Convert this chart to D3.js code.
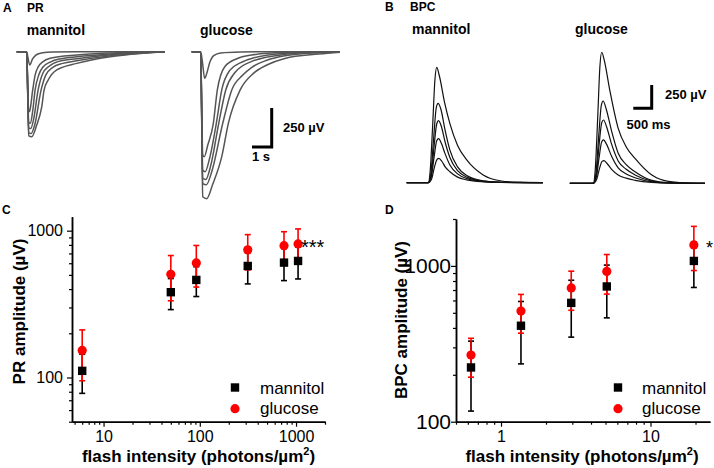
<!DOCTYPE html>
<html><head><meta charset="utf-8">
<script src="https://cdn.jsdelivr.net/npm/d3@7/dist/d3.min.js"></script>
<style>
html,body{margin:0;padding:0;background:#fff;}
svg{display:block;font-family:Arial,"Liberation Sans",sans-serif;}
</style></head>
<body><svg id="fig" width="714" height="468"></svg>
<script>
// ---------------- Panel C data (PR amplitude) ----------------
const PR_INTENSITY = [6, 50, 92, 315, 750, 1050];
const PR_MANNITOL = [111, 381, 462, 575, 606, 622];
const PR_MANNITOL_SD = [33, 91, 106, 141, 149, 153];
const PR_GLUCOSE = [153, 505, 603, 740, 790, 812];
const PR_GLUCOSE_SD = [58, 172, 190, 200, 194, 216];
const PR_X_TICKS = [10, 100, 1000];
const PR_Y_TICKS = [100, 1000];

// ---------------- Panel D data (BPC amplitude) ----------------
const BPC_INTENSITY = [0.63, 1.36, 2.95, 5.1, 19.5];
const BPC_MANNITOL = [223, 413, 579, 738, 1076];
const BPC_MANNITOL_SD = [106, 178, 230, 274, 349];
const BPC_GLUCOSE = [268, 513, 722, 921, 1364];
const BPC_GLUCOSE_SD = [75, 143, 203, 262, 430];
const BPC_X_TICKS = [1, 10];
const BPC_Y_TICKS = [100, 1000];

// ---------------- Panel A traces: [time s, µV] ----------------
const PR_TRACES_MANNITOL = [
  [[-0.5,0],[0,0],[0.05,-30],[0.15,-85],[0.3,-45],[0.5,-18],[0.8,-6],[1.3,-2],[2.5,0],[6.9,0]],
  [[-0.5,0],[0,0],[0.05,-200],[0.1,-385],[0.15,-380],[0.3,-245],[0.42,-150],[0.58,-96],[0.8,-65],[1.17,-42],[2.5,-21],[4.2,-8],[5.8,-2],[6.9,0]],
  [[-0.5,0],[0,0],[0.05,-230],[0.1,-455],[0.18,-459],[0.3,-380],[0.42,-245],[0.6,-150],[0.8,-100],[1.2,-65],[1.7,-45],[2.5,-32],[4.2,-14],[5.8,-4],[6.9,0]],
  [[-0.5,0],[0,0],[0.05,-250],[0.1,-488],[0.2,-492],[0.35,-430],[0.57,-245],[0.8,-140],[1.1,-95],[1.6,-62],[2.5,-45],[4.2,-20],[5.8,-6],[6.9,0]],
  [[-0.5,0],[0,0],[0.05,-260],[0.1,-520],[0.22,-524],[0.4,-470],[0.72,-245],[0.95,-150],[1.3,-100],[1.8,-75],[2.5,-58],[4.2,-26],[5.8,-8],[6.9,0]],
  [[-0.5,0],[0,0],[0.05,-270],[0.1,-540],[0.25,-545],[0.5,-470],[0.75,-353],[0.87,-245],[1.08,-180],[1.5,-117],[2.5,-75],[4.17,-32],[5.8,-10],[6.9,0]]
];
const PR_TRACES_GLUCOSE = [
  [[-0.45,0],[0,0],[0.08,-60],[0.2,-171],[0.3,-140],[0.45,-70],[0.65,-25],[1.0,-8],[2,-2],[3.5,0],[6.95,0]],
  [[-0.45,0],[0,0],[0.05,-330],[0.1,-660],[0.18,-673],[0.35,-600],[0.63,-459],[0.83,-245],[1.2,-96],[1.8,-45],[2.55,-21],[4.2,-4],[5.9,0],[6.95,0]],
  [[-0.45,0],[0,0],[0.05,-380],[0.1,-760],[0.22,-769],[0.45,-680],[0.78,-459],[1.05,-245],[1.45,-120],[2.0,-70],[2.55,-43],[4.2,-11],[5.9,-2],[6.95,0]],
  [[-0.45,0],[0,0],[0.05,-400],[0.1,-810],[0.25,-820],[0.5,-730],[0.9,-459],[1.25,-245],[1.7,-135],[2.55,-62],[4.2,-17],[5.9,-4],[6.95,0]],
  [[-0.45,0],[0,0],[0.05,-420],[0.1,-845],[0.28,-853],[0.55,-770],[1.1,-459],[1.55,-245],[2.1,-150],[2.55,-100],[3.3,-55],[4.2,-26],[5.9,-6],[6.95,0]],
  [[-0.45,0],[0,0],[0.05,-450],[0.1,-930],[0.3,-942],[0.6,-850],[1.05,-673],[1.38,-459],[1.97,-245],[2.63,-139],[3.3,-85],[4.2,-43],[5.9,-15],[6.95,-3]]
];

// ---------------- Panel B traces: [time s, µV] ----------------
const BPC_TRACES_MANNITOL = [
  [[-0.59,0],[0,0],[0.05,120],[0.12,620],[0.18,1100],[0.23,1238],[0.3,1150],[0.45,850],[0.59,633],[0.8,400],[1.05,244],[1.5,83],[1.96,21],[2.5,3],[3.13,0]],
  [[-0.59,0],[0,0],[0.07,100],[0.15,500],[0.22,810],[0.27,852],[0.35,780],[0.45,580],[0.59,350],[0.8,170],[1.05,78],[1.5,21],[2,5],[3.13,0]],
  [[-0.59,0],[0,0],[0.08,80],[0.16,400],[0.23,630],[0.28,665],[0.36,600],[0.45,450],[0.59,270],[0.8,130],[1.05,60],[1.5,17],[2,4],[3.13,0]],
  [[-0.59,0],[0,0],[0.08,60],[0.16,280],[0.23,450],[0.28,472],[0.36,420],[0.45,320],[0.59,190],[0.8,95],[1.05,45],[1.5,13],[2,3],[3.13,0]],
  [[-0.59,0],[0,0],[0.09,40],[0.17,170],[0.24,250],[0.29,262],[0.37,230],[0.46,170],[0.59,118],[0.8,60],[1.05,30],[1.5,9],[2,2],[3.13,0]]
];
const BPC_TRACES_GLUCOSE = [
  [[-0.64,0],[0,0],[0.05,130],[0.12,700],[0.18,1250],[0.23,1406],[0.3,1320],[0.45,1000],[0.68,590],[0.9,390],[1.14,268],[1.6,89],[2.05,21],[2.6,3],[3.05,0]],
  [[-0.64,0],[0,0],[0.07,100],[0.15,520],[0.22,840],[0.27,883],[0.35,800],[0.5,560],[0.68,322],[0.9,200],[1.14,124],[1.6,32],[2.1,6],[3.05,0]],
  [[-0.64,0],[0,0],[0.08,80],[0.16,420],[0.23,650],[0.28,679],[0.36,610],[0.5,420],[0.68,240],[0.9,150],[1.14,90],[1.6,24],[2.1,5],[3.05,0]],
  [[-0.64,0],[0,0],[0.08,60],[0.16,280],[0.23,445],[0.28,465],[0.36,420],[0.5,290],[0.68,165],[0.9,100],[1.14,60],[1.6,16],[2.1,3],[3.05,0]],
  [[-0.64,0],[0,0],[0.09,40],[0.17,160],[0.24,235],[0.29,243],[0.37,215],[0.5,150],[0.68,90],[0.9,55],[1.14,32],[1.6,9],[2.1,2],[3.05,0]]
];

const svg = d3.select("#fig");
const FONT = 'Arial,"Liberation Sans",sans-serif';

function text(x, y, s, opts = {}) {
  const t = svg.append("text").attr("x", x).attr("y", y)
    .attr("font-size", opts.size || 12)
    .attr("font-weight", opts.bold ? "bold" : "normal")
    .attr("text-anchor", opts.anchor || "start")
    .attr("fill", opts.fill || "#000")
    .text(s);
  return t;
}

// ---------------- Trace drawing ----------------
function drawTraces(traces, x0, pxPerSec, y0, pxPer250, color, width) {
  const x = d3.scaleLinear().domain([0, 1]).range([x0, x0 + pxPerSec]);
  const y = d3.scaleLinear().domain([0, 250]).range([y0, y0 - pxPer250]);
  const line = d3.line().x(d => x(d[0])).y(d => y(d[1])).curve(d3.curveMonotoneX);
  const g = svg.append("g");
  traces.forEach(tr => {
    g.append("path").attr("d", line(tr)).attr("fill", "none")
      .attr("stroke", color).attr("stroke-width", width)
      .attr("stroke-linejoin", "round");
  });
}
// Panel A
drawTraces(PR_TRACES_MANNITOL, 26.7, 20.04, 51.7, 39, "#555", 1.5);
drawTraces(PR_TRACES_GLUCOSE, 200.7, 20.04, 51.7, 39, "#555", 1.5);
// Panel B
drawTraces(BPC_TRACES_MANNITOL, 428.3, 36.6, 182.7, 23.3, "#111", 1.2);
drawTraces(BPC_TRACES_GLUCOSE, 593.3, 36.6, 183.3, 23.3, "#111", 1.2);

// Scale bars
function scaleBar(xv, yTop, yBot, xLeft) {
  svg.append("path").attr("d", `M${xv},${yTop}V${yBot}H${xLeft}`)
    .attr("fill", "none").attr("stroke", "#000").attr("stroke-width", 3);
}
scaleBar(271.7, 108, 147, 252);
scaleBar(651.7, 85, 108.3, 633.3);

// Top labels
text(3, 12, "A", {bold: true, size: 12});
text(27, 12, "PR", {bold: true, size: 12});
text(26.7, 35, "mannitol", {bold: true, size: 14});
text(200, 35, "glucose", {bold: true, size: 14});
text(283, 131.5, "250 \u00B5V", {bold: true, size: 13});
text(252, 161, "1 s", {bold: true, size: 13});

text(385, 11, "B", {bold: true, size: 12});
text(410, 11, "BPC", {bold: true, size: 12});
text(412, 33.5, "mannitol", {bold: true, size: 14});
text(575, 33.5, "glucose", {bold: true, size: 14});
text(665, 98.5, "250 \u00B5V", {bold: true, size: 13});
text(626.5, 128.5, "500 ms", {bold: true, size: 13});

text(2, 213.5, "C", {bold: true, size: 12});
text(385, 213.5, "D", {bold: true, size: 12});

// ---------------- Scatter panels ----------------
function minorTicks(domain) {
  const out = [];
  const lo = Math.floor(Math.log10(domain[0])), hi = Math.ceil(Math.log10(domain[1]));
  for (let e = lo; e <= hi; e++) {
    for (let m = 2; m <= 9; m++) {
      const v = m * Math.pow(10, e);
      if (v >= domain[0] && v <= domain[1]) out.push(v);
    }
  }
  return out;
}

function scatterPanel(cfg) {
  const x = d3.scaleLog().domain(cfg.xDomain).range(cfg.xRange);
  const y = d3.scaleLog().domain(cfg.yDomain).range(cfg.yRange);
  const g = svg.append("g");

  // axes
  const ax = g.append("g").attr("transform", `translate(0,${cfg.yRange[0]})`)
    .call(d3.axisBottom(x).tickValues(cfg.xTicks).tickSize(5).tickSizeOuter(0).tickPadding(4)
      .tickFormat(d3.format("d")));
  g.append("g").attr("transform", `translate(0,${cfg.yRange[0]})`)
    .call(d3.axisBottom(x).tickValues(minorTicks(cfg.xDomain).filter(v => !cfg.xTicks.includes(v)))
      .tickSize(3).tickSizeOuter(0).tickFormat(""));
  const ay = g.append("g").attr("transform", `translate(${cfg.xRange[0]},0)`)
    .call(d3.axisLeft(y).tickValues(cfg.yTicks).tickSize(5).tickSizeOuter(0).tickPadding(cfg.yPad)
      .tickFormat(d3.format("d")));
  g.append("g").attr("transform", `translate(${cfg.xRange[0]},0)`)
    .call(d3.axisLeft(y).tickValues(minorTicks(cfg.yDomain).filter(v => !cfg.yTicks.includes(v)))
      .tickSize(3).tickSizeOuter(0).tickFormat(""));
  g.selectAll(".domain").attr("stroke", "#000").attr("stroke-width", 1.5);
  g.selectAll(".tick line").attr("stroke", "#000").attr("stroke-width", 1.2);
  ax.selectAll("text").attr("font-size", cfg.xTickSize).attr("font-family", FONT).attr("fill", "#000");
  ay.selectAll("text").attr("font-size", cfg.yTickSize).attr("font-family", FONT).attr("fill", "#000");

  // error bars
  function errBars(vals, sds, color) {
    const eg = g.append("g").attr("stroke", color).attr("stroke-width", 1.6);
    cfg.xs.forEach((xv, i) => {
      const cx = x(xv), y1 = y(vals[i] - sds[i]), y2 = y(vals[i] + sds[i]);
      eg.append("line").attr("x1", cx).attr("x2", cx).attr("y1", y1).attr("y2", y2);
      eg.append("line").attr("x1", cx - 3).attr("x2", cx + 3).attr("y1", y1).attr("y2", y1);
      eg.append("line").attr("x1", cx - 3).attr("x2", cx + 3).attr("y1", y2).attr("y2", y2);
    });
  }
  errBars(cfg.mannitol, cfg.mannitolSD, "#000");
  errBars(cfg.glucose, cfg.glucoseSD, "#ff0000");
  g.selectAll(null).data(cfg.xs).enter().append("rect")
    .attr("x", (d) => x(d) - 4.2).attr("y", (d, i) => y(cfg.mannitol[i]) - 4.2)
    .attr("width", 8.4).attr("height", 8.4).attr("fill", "#000");
  g.selectAll(null).data(cfg.xs).enter().append("circle")
    .attr("cx", (d) => x(d)).attr("cy", (d, i) => y(cfg.glucose[i]))
    .attr("r", 4.6).attr("fill", "#ff0000");

  // legend
  const L = cfg.legend;
  g.append("rect").attr("x", L.x - 4.2).attr("y", L.y1 - 4.2).attr("width", 8.4).attr("height", 8.4).attr("fill", "#000");
  g.append("circle").attr("cx", L.x).attr("cy", L.y2).attr("r", 4.6).attr("fill", "#ff0000");
  text(L.tx, L.y1 + 6.5, "mannitol", {size: 17});
  text(L.tx, L.y2 + 5.5, "glucose", {size: 17});

  // titles
  const xt = text((cfg.xRange[0] + cfg.xRange[1]) / 2 + cfg.xTitleDx, 461.5, "", {bold: true, size: 17, anchor: "middle"});
  xt.append("tspan").text("flash intensity (photons/\u00B5m");
  xt.append("tspan").attr("dy", -7).attr("font-size", 11).text("2");
  xt.append("tspan").attr("dy", 7).text(")");
  svg.append("text").attr("transform", `translate(${cfg.yTitleX},${cfg.yTitleY}) rotate(-90)`)
    .attr("text-anchor", "middle").attr("font-weight", "bold").attr("font-size", 17)
    .text(cfg.yTitle);

  // significance
  text(cfg.star.x, cfg.star.y, cfg.star.s, {size: cfg.star.size});
}

scatterPanel({
  xDomain: [4.7, 2000], xRange: [72, 325],
  yDomain: [50, 1245], yRange: [421.7, 216.7],
  xTicks: PR_X_TICKS, yTicks: PR_Y_TICKS,
  xTickSize: 16, yTickSize: 16, yPad: 4,
  xs: PR_INTENSITY,
  mannitol: PR_MANNITOL, mannitolSD: PR_MANNITOL_SD,
  glucose: PR_GLUCOSE, glucoseSD: PR_GLUCOSE_SD,
  legend: {x: 235, y1: 387.5, y2: 408.7, tx: 260},
  xTitleDx: 0, yTitleX: 25, yTitleY: 311.5, yTitle: "PR amplitude (\u00B5V)",
  star: {x: 301, y: 254, s: "***", size: 20}
});

scatterPanel({
  xDomain: [0.5, 25], xRange: [456, 710],
  yDomain: [100, 2000], yRange: [421.7, 219],
  xTicks: BPC_X_TICKS, yTicks: BPC_Y_TICKS,
  xTickSize: 16, yTickSize: 21, yPad: 0,
  xs: BPC_INTENSITY,
  mannitol: BPC_MANNITOL, mannitolSD: BPC_MANNITOL_SD,
  glucose: BPC_GLUCOSE, glucoseSD: BPC_GLUCOSE_SD,
  legend: {x: 618, y1: 387.5, y2: 408.7, tx: 642},
  xTitleDx: -1, yTitleX: 407, yTitleY: 320, yTitle: "BPC amplitude (\u00B5V)",
  star: {x: 706, y: 254, s: "*", size: 18}
});
</script>
</body></html>
